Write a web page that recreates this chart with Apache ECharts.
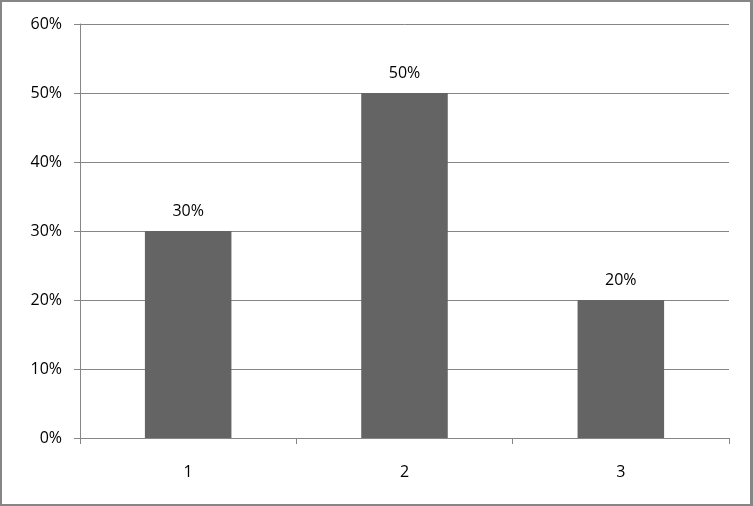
<!DOCTYPE html>
<html><head><meta charset="utf-8">
<script src="https://cdn.jsdelivr.net/npm/echarts@6/dist/echarts.min.js"></script>
<style>
html,body{margin:0;padding:0;background:#fff;}
#c{width:753px;height:506px;box-sizing:border-box;border:2px solid #868686;border-right-width:3px;}
</style></head>
<body><div id="c"></div>
<script>
const categories = ['1', '2', '3'];
const values = [30, 50, 20];
const yTicks = [0, 10, 20, 30, 40, 50, 60];

const chart = echarts.init(document.getElementById('c'));
chart.setOption({
  animation: false,
  textStyle: { fontFamily: '"Open Sans", sans-serif' },
  grid: { left: 78, right: 21, top: 22, bottom: 66 },
  xAxis: {
    type: 'category',
    data: categories,
    axisLine: { lineStyle: { color: '#868686', width: 1 } },
    axisTick: { show: true, length: 6, lineStyle: { color: '#868686' } },
    axisLabel: { color: '#000', fontSize: 16, margin: 26, fontFamily: '"Open Sans", sans-serif' },
    splitLine: { show: false }
  },
  yAxis: {
    type: 'value',
    min: yTicks[0],
    max: yTicks[yTicks.length - 1],
    interval: 10,
    axisLine: { show: true, lineStyle: { color: '#868686', width: 1 } },
    axisTick: { show: true, length: 6, lineStyle: { color: '#868686' } },
    axisLabel: { color: '#000', fontSize: 16, margin: 18, fontFamily: '"Open Sans", sans-serif', formatter: v => v + '%' },
    splitLine: { show: true, lineStyle: { color: '#868686', width: 1 } }
  },
  series: [{
    type: 'bar',
    data: values,
    barWidth: '40%',
    itemStyle: { color: '#646464' },
    label: { show: true, position: 'top', distance: 12, color: '#000', fontSize: 16, fontFamily: '"Open Sans", sans-serif', formatter: p => p.value + '%' }
  }]
});
</script></body></html>
